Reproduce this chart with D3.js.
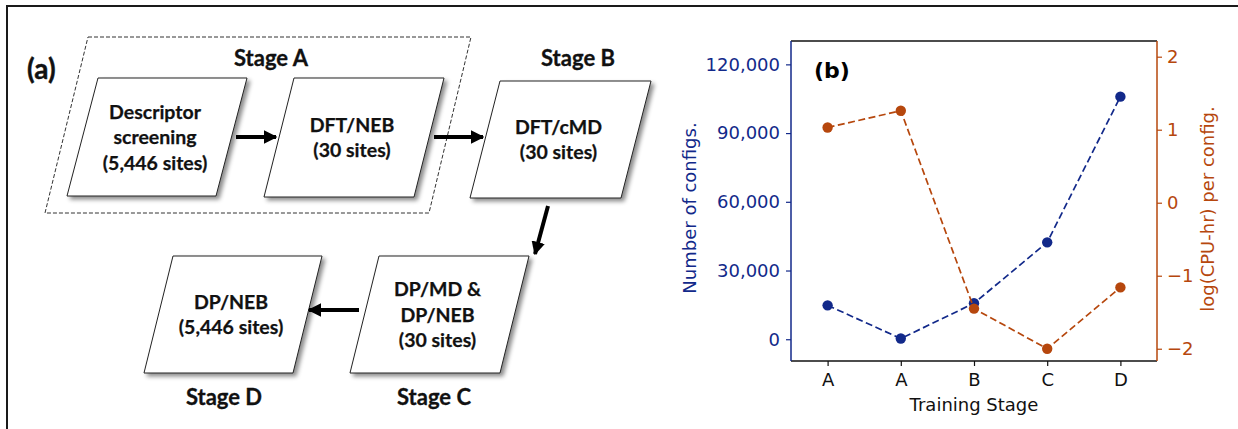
<!DOCTYPE html>
<html>
<head>
<meta charset="utf-8">
<script src="https://cdn.jsdelivr.net/npm/d3@7"></script>
<style>
  html, body { margin: 0; padding: 0; background: #fff; }
  svg { display: block; }
</style>
</head>
<body>
<svg id="fig" width="1238" height="429"></svg>
<script>
// ---- panel (b) data ----
const stages = ["A", "A", "B", "C", "D"];
const configCounts = [14800, 300, 15700, 42300, 105900];
const logCpuHours = [1.03, 1.26, -1.45, -2.0, -1.16];
const countTicks = [0, 30000, 60000, 90000, 120000];
const logTicks = [-2, -1, 0, 1, 2];

// ---- panel (a) workflow text ----
const workflowSteps = [
  ["Descriptor", "screening", "(5,446 sites)"],
  ["DFT/NEB", "(30 sites)"],
  ["DFT/cMD", "(30 sites)"],
  ["DP/MD &", "DP/NEB", "(30 sites)"],
  ["DP/NEB", "(5,446 sites)"]
];
const stageNames = ["Stage A", "Stage B", "Stage C", "Stage D"];

const BLUE = "#12298a";
const ORANGE = "#b6470d";

const svg = d3.select("#fig");

// outer frame (top and left rules)
svg.append("path")
  .attr("d", "M7,429 L7,6 L1238,6")
  .attr("fill", "none").attr("stroke", "#1a1a1a").attr("stroke-width", 2);

// ================= panel (a): workflow diagram =================
const defs = svg.append("defs");
const shadow = defs.append("filter").attr("id", "shadow")
  .attr("x", "-10%").attr("y", "-10%").attr("width", "130%").attr("height", "130%");
shadow.append("feDropShadow")
  .attr("dx", 3).attr("dy", 3).attr("stdDeviation", 2)
  .attr("flood-color", "#000").attr("flood-opacity", 0.45);

defs.append("marker").attr("id", "head")
  .attr("viewBox", "0 0 10 10").attr("refX", 9).attr("refY", 5)
  .attr("markerWidth", 3.4).attr("markerHeight", 3.4)
  .attr("markerUnits", "strokeWidth").attr("orient", "auto")
  .append("path").attr("d", "M0,0 L10,5 L0,10 Z").attr("fill", "#000");

// box geometry: bottom-left x, top y, width, height, slant
const boxLayout = [
  { x: 67,  y: 78,  w: 149, h: 118, s: 31 },
  { x: 264, y: 78,  w: 150, h: 119, s: 30 },
  { x: 470, y: 81,  w: 151, h: 117, s: 30 },
  { x: 350, y: 256, w: 150, h: 117, s: 29 },
  { x: 144, y: 256, w: 149, h: 117, s: 29 }
];
const para = b => `M${b.x + b.s},${b.y} L${b.x + b.s + b.w},${b.y} L${b.x + b.w},${b.y + b.h} L${b.x},${b.y + b.h} Z`;

const diagram = svg.append("g").attr("class", "workflow");

// dashed outline grouping stage A
diagram.append("path")
  .attr("d", "M88,37 L471,37 L429,213 L45,213 Z")
  .attr("fill", "none").attr("stroke", "#333").attr("stroke-width", 1)
  .attr("stroke-dasharray", "4,2");

const boxG = diagram.selectAll("g.step").data(workflowSteps).join("g").attr("class", "step");
boxG.append("path")
  .attr("d", (d, i) => para(boxLayout[i]))
  .attr("fill", "#fff").attr("stroke", "#222").attr("stroke-width", 1)
  .attr("filter", "url(#shadow)");
boxG.each(function (lines, i) {
  const b = boxLayout[i];
  const cx = b.x + b.s / 2 + b.w / 2 - 2;
  const cy = b.y + b.h / 2;
  const lh = 25.5;
  d3.select(this).selectAll("text").data(lines).join("text")
    .attr("x", cx)
    .attr("y", (t, j) => cy + (j - (lines.length - 1) / 2) * lh)
    .attr("dy", "0.36em")
    .attr("text-anchor", "middle")
    .attr("font-family", "Lato, 'Open Sans', sans-serif")
    .attr("font-weight", 700)
    .attr("font-size", 19.5)
    .attr("fill", "#111")
    .attr("stroke", "#111").attr("stroke-width", 0.25)
    .text(t => t);
});

// arrows between steps
const arrowLayout = [
  [236, 137, 276, 137],
  [434, 137, 483, 137],
  [548, 206, 535, 254],
  [359, 310, 309, 310]
];
diagram.selectAll("line.flow").data(arrowLayout).join("line")
  .attr("class", "flow")
  .attr("x1", d => d[0]).attr("y1", d => d[1])
  .attr("x2", d => d[2]).attr("y2", d => d[3])
  .attr("stroke", "#000").attr("stroke-width", 4)
  .attr("marker-end", "url(#head)");

// stage labels
const stagePos = [[271, 58], [578, 58], [434, 397], [224, 397]];
diagram.selectAll("text.stage").data(stageNames).join("text")
  .attr("class", "stage")
  .attr("x", (d, i) => stagePos[i][0]).attr("y", (d, i) => stagePos[i][1])
  .attr("dy", "0.36em").attr("text-anchor", "middle")
  .attr("font-family", "Lato, 'Open Sans', sans-serif")
  .attr("font-weight", 700).attr("font-size", 22).attr("fill", "#111")
  .attr("stroke", "#111").attr("stroke-width", 0.3)
  .text(d => d);

svg.append("text").attr("x", 27).attr("y", 69).attr("dy", "0.36em")
  .attr("font-family", "Lato, 'Open Sans', sans-serif")
  .attr("font-weight", 700).attr("font-size", 28).attr("fill", "#111")
  .attr("stroke", "#111").attr("stroke-width", 0.4)
  .text("(a)");

// ================= panel (b): twin-axis line chart =================
const L = 791, R = 1157, T = 41, B = 361;
const FONT = "'DejaVu Sans', sans-serif";
const FS = 18;

const x = d3.scaleLinear().domain([-0.5, 4.5]).range([L, R]);
const yCount = d3.scaleLinear().domain([-9500, 130200]).range([B, T]);
const yLog = d3.scaleLinear().domain([-2.168, 2.215]).range([B, T]);

const chart = svg.append("g").attr("class", "chart");

function styleAxis(g, color) {
  g.select(".domain").remove();
  g.selectAll(".tick line").attr("stroke", color).attr("stroke-width", 1.2);
  g.selectAll(".tick text").attr("fill", color)
    .attr("font-family", FONT).attr("font-size", FS);
}

chart.append("g").attr("transform", `translate(0,${B})`)
  .call(d3.axisBottom(x).tickValues(d3.range(stages.length))
    .tickFormat(i => stages[i]).tickSize(5).tickPadding(7))
  .call(g => styleAxis(g, "#111"));

chart.append("g").attr("transform", `translate(${L},0)`)
  .call(d3.axisLeft(yCount).tickValues(countTicks)
    .tickFormat(d3.format(",")).tickSize(5).tickPadding(6))
  .call(g => styleAxis(g, BLUE));

chart.append("g").attr("transform", `translate(${R},0)`)
  .call(d3.axisRight(yLog).tickValues(logTicks)
    .tickFormat(d => d < 0 ? "\u2212" + Math.abs(d) : d).tickSize(5).tickPadding(5))
  .call(g => styleAxis(g, ORANGE));

// spines
chart.append("line").attr("x1", L).attr("x2", R).attr("y1", T).attr("y2", T)
  .attr("stroke", "#111").attr("stroke-width", 1.5);
chart.append("line").attr("x1", L).attr("x2", R).attr("y1", B).attr("y2", B)
  .attr("stroke", "#111").attr("stroke-width", 1.5);
chart.append("line").attr("x1", L).attr("x2", L).attr("y1", T).attr("y2", B)
  .attr("stroke", BLUE).attr("stroke-width", 1.5);
chart.append("line").attr("x1", R).attr("x2", R).attr("y1", T).attr("y2", B)
  .attr("stroke", ORANGE).attr("stroke-width", 1.5);

// series
function drawSeries(values, yScale, color) {
  const line = d3.line().x((d, i) => x(i)).y(d => yScale(d));
  chart.append("path").datum(values)
    .attr("d", line).attr("fill", "none")
    .attr("stroke", color).attr("stroke-width", 1.7)
    .attr("stroke-dasharray", "7,3.5");
  chart.append("g").selectAll("circle").data(values).join("circle")
    .attr("cx", (d, i) => x(i)).attr("cy", d => yScale(d))
    .attr("r", 5.2).attr("fill", color);
}
drawSeries(configCounts, yCount, BLUE);
drawSeries(logCpuHours, yLog, ORANGE);

// axis titles
chart.append("text")
  .attr("transform", `translate(690,${(T + B) / 2 + 7}) rotate(-90)`)
  .attr("dy", "0.36em").attr("text-anchor", "middle")
  .attr("font-family", FONT).attr("font-size", FS).attr("fill", BLUE)
  .text("Number of configs.");
chart.append("text")
  .attr("transform", `translate(1208,${(T + B) / 2 + 8}) rotate(-90)`)
  .attr("dy", "0.36em").attr("text-anchor", "middle")
  .attr("font-family", FONT).attr("font-size", FS).attr("fill", ORANGE)
  .text("log(CPU-hr) per config.");
chart.append("text")
  .attr("x", (L + R) / 2).attr("y", 405).attr("dy", "0.36em")
  .attr("text-anchor", "middle")
  .attr("font-family", FONT).attr("font-size", FS).attr("fill", "#111")
  .text("Training Stage");
chart.append("text")
  .attr("x", 814).attr("y", 70).attr("dy", "0.36em")
  .attr("font-family", FONT).attr("font-weight", 700).attr("font-size", 22)
  .attr("fill", "#000")
  .text("(b)");
</script>
</body>
</html>
